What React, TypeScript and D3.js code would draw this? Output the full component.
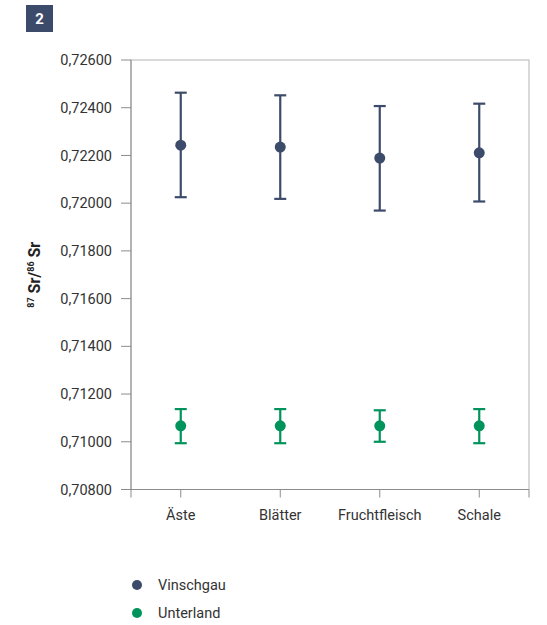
import React from "react";
import * as d3 from "d3";

const categories = ["Äste", "Blätter", "Fruchtfleisch", "Schale"];
const vinschgauMean = [0.72243, 0.72235, 0.72189, 0.72211];
const vinschgauHigh = [0.72463, 0.72452, 0.72407, 0.72417];
const vinschgauLow = [0.72025, 0.72018, 0.71969, 0.72007];
const unterlandMean = [0.71067, 0.71067, 0.71067, 0.71067];
const unterlandHigh = [0.71137, 0.71137, 0.71132, 0.71137];
const unterlandLow = [0.70994, 0.70994, 0.71, 0.70994];
const yTicks = [0.708, 0.71, 0.712, 0.714, 0.716, 0.718, 0.72, 0.722, 0.724, 0.726];
const seriesNames = ["Vinschgau", "Unterland"];

const WIDTH = 547;
const HEIGHT = 625;
const NAVY = "#3d4b6b";
const GREEN = "#00935c";
const FONT = "Roboto, sans-serif";

const margin = { top: 60, right: 18, bottom: 136, left: 131 };

export default function App() {
  const x0 = margin.left;
  const x1 = WIDTH - margin.right;
  const y0 = margin.top;
  const y1 = HEIGHT - margin.bottom + 0.5;

  const x = d3.scalePoint<string>().domain(categories).range([x0, x1]).padding(0.5);
  const y = d3.scaleLinear().domain([0.708, 0.726]).range([y1, y0]);
  const fmt = (v: number) => v.toFixed(5).replace(".", ",");

  const series = [
    { name: seriesNames[0], color: NAVY, mean: vinschgauMean, hi: vinschgauHigh, lo: vinschgauLow },
    { name: seriesNames[1], color: GREEN, mean: unterlandMean, hi: unterlandHigh, lo: unterlandLow },
  ];

  const xTickPos = [x0, ...categories.map((c) => x(c) as number), x1];

  return (
    <svg
      width={WIDTH}
      height={HEIGHT}
      style={{ position: "absolute", left: 0, top: 0, background: "#fff" }}
      fontFamily={FONT}
    >
      {/* badge */}
      <rect x={26} y={5} width={27} height={27} fill={NAVY} />
      <text x={39.5} y={24} textAnchor="middle" fill="#fff" fontSize={15} fontWeight="bold">
        2
      </text>

      {/* frame */}
      <rect x={x0} y={y0} width={x1 - x0} height={y1 - y0} fill="none" stroke="#b3b3b3" strokeWidth={1} />
      <line x1={x0} x2={x0} y1={y0} y2={y1} stroke="#8c8c8c" />
      <line x1={x0} x2={x1} y1={y1} y2={y1} stroke="#8c8c8c" />

      {/* y axis */}
      {yTicks.map((t) => (
        <g key={t}>
          <line x1={x0 - 10} x2={x0} y1={y(t)} y2={y(t)} stroke="#8c8c8c" />
          <text x={x0 - 19} y={y(t)} dy="0.35em" textAnchor="end" fontSize={14.5} fill="#333">
            {fmt(t)}
          </text>
        </g>
      ))}

      {/* x axis */}
      {xTickPos.map((p, i) => (
        <line key={i} x1={p} x2={p} y1={y1} y2={y1 + 8} stroke="#8c8c8c" />
      ))}
      {categories.map((c) => (
        <text key={c} x={x(c)} y={y1 + 30} textAnchor="middle" fontSize={14.5} fill="#333">
          {c}
        </text>
      ))}

      {/* y label */}
      <text
        transform={`translate(40, ${(y0 + y1) / 2}) rotate(-90)`}
        textAnchor="middle"
        fontSize={16}
        fontWeight="bold"
        fill="#222"
      >
        <tspan fontSize={9} dy={-6}>87</tspan>
        <tspan dy={6}> Sr/</tspan>
        <tspan fontSize={9} dy={-6}>86</tspan>
        <tspan dy={6}> Sr</tspan>
      </text>

      {/* error bars and points */}
      {series.map((s) =>
        categories.map((c, i) => {
          const cx = x(c) as number;
          return (
            <g key={s.name + c} stroke={s.color} strokeWidth={2.2}>
              <line x1={cx} x2={cx} y1={y(s.hi[i])} y2={y(s.lo[i])} />
              <line x1={cx - 6} x2={cx + 6} y1={y(s.hi[i])} y2={y(s.hi[i])} />
              <line x1={cx - 6} x2={cx + 6} y1={y(s.lo[i])} y2={y(s.lo[i])} />
              <circle cx={cx} cy={y(s.mean[i])} r={5.5} fill={s.color} stroke="none" />
            </g>
          );
        })
      )}

      {/* legend */}
      {series.map((s, i) => (
        <g key={s.name} transform={`translate(137, ${585 + i * 28})`}>
          <circle r={5} fill={s.color} />
          <text x={21} dy="0.35em" fontSize={14.5} fill="#333">
            {s.name}
          </text>
        </g>
      ))}
    </svg>
  );
}
